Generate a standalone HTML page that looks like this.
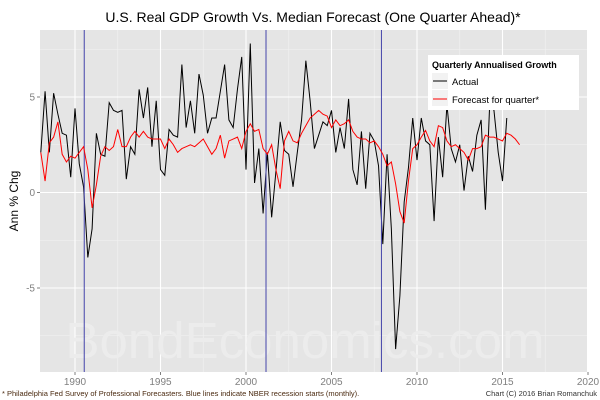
<!DOCTYPE html>
<html><head><meta charset="utf-8"><style>
body{margin:0;background:#fff;}
svg{display:block;font-family:"Liberation Sans",sans-serif;}
</style></head><body>
<svg id="chart" width="600" height="400" viewBox="0 0 600 400">
  <rect x="0" y="0" width="600" height="400" fill="#fff"/>
  <text x="313" y="22" font-size="14" text-anchor="middle" fill="#000">U.S. Real GDP Growth Vs. Median Forecast (One Quarter Ahead)*</text>
  <rect id="panel" x="40" y="30" width="547" height="342" fill="#e5e5e5"/>
  <g id="grid"></g>
  <text x="305" y="358" font-size="51" text-anchor="middle" fill="#ececec">BondEconomics.com</text>
  <g id="series"></g>
  <g id="axes"></g>
  <text transform="translate(18,201) rotate(-90)" font-size="12" text-anchor="middle" fill="#000">Ann % Chg</text>
  <g>
    <rect x="428" y="55" width="151" height="55" fill="#fff"/>
    <text x="432" y="68" font-size="9" font-weight="bold" fill="#000">Quarterly Annualised Growth</text>
    <rect x="432" y="73" width="16" height="16" fill="#f2f2f2"/>
    <line x1="433" y1="81" x2="447" y2="81" stroke="#000" stroke-width="1"/>
    <text x="452" y="85" font-size="9.5" fill="#000">Actual</text>
    <rect x="432" y="90" width="16" height="16" fill="#f2f2f2"/>
    <line x1="433" y1="99" x2="447" y2="99" stroke="#f00" stroke-width="1"/>
    <text x="452" y="103" font-size="9.5" fill="#000">Forecast for quarter*</text>
  </g>
  <text x="2" y="396" font-size="7.5" fill="#4a2a10">* Philadelphia Fed Survey of Professional Forecasters. Blue lines indicate NBER recession starts (monthly).</text>
  <text x="597" y="396" font-size="7.5" text-anchor="end" fill="#333">Chart (C) 2016 Brian Romanchuk</text>
</svg>
<script>
const startYear = 1988.0;
const actualValues = [
2.1,5.3,2.1,5.2, 4.1,3.1,3.0,0.8, 4.4,1.5,0.3,-3.4, -1.9,3.1,2.0,1.9,
4.7,4.3,4.2,4.3, 0.7,2.4,2.0,5.4, 3.9,5.5,2.4,4.8, 1.2,0.9,3.3,3.0,
2.9,6.7,3.4,4.8, 3.1,6.2,5.1,3.1, 3.9,3.9,5.3,6.7, 3.8,3.4,5.4,7.1,
1.2,7.8,0.5,2.3, -1.1,2.1,-1.3,1.1, 3.7,2.2,2.0,0.3, 2.1,3.8,6.9,4.8,
2.3,3.0,3.7,3.5, 4.3,2.1,3.4,2.3, 4.9,1.2,0.4,3.2, 0.2,3.1,2.7,1.4,
-2.7,2.0,-1.9,-8.2, -5.4,-0.5,1.3,3.9, 1.7,3.9,2.7,2.5, -1.5,2.9,0.8,4.6,
2.3,1.6,2.5,0.1, 1.9,1.1,3.0,3.8, -0.9,4.6,4.3,2.1, 0.6,3.9
];
const forecastValues = [
2.1,0.6,2.6,2.9, 3.7,2.0,1.6,1.9, 1.8,2.1,2.4,1.2, -0.8,0.4,1.9,2.4,
2.2,2.4,3.3,2.4, 2.4,2.9,3.2,2.9, 3.2,2.9,2.8,2.8, 2.8,2.3,2.8,2.5,
2.1,2.3,2.4,2.5, 2.4,2.6,2.8,2.4, 2.0,2.3,3.0,1.8, 2.7,2.8,2.9,2.3,
3.2,3.6,3.2,3.3, 2.3,2.0,2.5,1.2, 0.2,2.7,3.2,2.7, 2.6,3.1,3.5,3.9,
4.1,4.3,4.1,4.0, 3.4,3.8,3.5,3.6, 3.8,3.2,2.9,2.8, 2.8,2.6,2.7,2.4,
2.0,1.4,1.6,0.45, -1.0,-1.6,0.6,2.3, 2.5,2.9,3.25,2.7, 2.4,3.5,3.4,2.7,
2.4,2.5,2.3,2.1, 1.7,2.3,2.3,2.4, 3.0,2.9,2.9,2.8, 2.7,3.1,3.0,2.8, 2.5
];
const recessionStarts = [1990.54, 2001.17, 2007.92];
const xTicks = [1990,1995,2000,2005,2010,2015,2020];
const xTickLabels = ["1990","1995","2000","2005","2010","2015","2020"];
const yTicks = [5,0,-5];
const yTickLabels = ["5","0","-5"];

const NS="http://www.w3.org/2000/svg";
function xs(t){return 75 + (t-1990)*17.1;}
function ys(v){return 192.5 - v*19.1;}
function mk(tag,attrs,parent){const e=document.createElementNS(NS,tag);for(const k in attrs)e.setAttribute(k,attrs[k]);parent.appendChild(e);return e;}
const grid=document.getElementById('grid'), ser=document.getElementById('series'), axes=document.getElementById('axes');
for(const t of xTicks){const m=t-2.5;if(xs(m)>40){const l=mk('line',{x1:xs(m),x2:xs(m),y1:30,y2:372,stroke:'#f2f2f2','stroke-width':0.6},grid);

}}
for(const v of yTicks){for(const m of [v+2.5,v-2.5]){const l=mk('line',{x1:40,x2:587,y1:ys(m),y2:ys(m),stroke:'#f2f2f2','stroke-width':0.6},grid);

}}
xTicks.forEach((t,i)=>{const l=mk('line',{x1:xs(t),x2:xs(t),y1:30,y2:372,stroke:'#fff','stroke-width':1.1},grid);


mk('line',{x1:xs(t),x2:xs(t),y1:372,y2:375,stroke:'#7f7f7f'},axes);
const tx=mk('text',{x:xs(t),y:385,'font-size':10,'text-anchor':'middle',fill:'#7f7f7f'},axes);tx.textContent=xTickLabels[i];

});
yTicks.forEach((v,i)=>{const l=mk('line',{x1:40,x2:587,y1:ys(v),y2:ys(v),stroke:'#fff','stroke-width':1.1},grid);


mk('line',{x1:37,x2:40,y1:ys(v),y2:ys(v),stroke:'#7f7f7f'},axes);
const tx=mk('text',{x:35,y:ys(v)+3.5,'font-size':10,'text-anchor':'end',fill:'#7f7f7f'},axes);tx.textContent=yTickLabels[i];

});
const pa=mk('polyline',{points:actualValues.map((v,i)=>xs(startYear+i/4)+','+ys(v)).join(' '),fill:'none',stroke:'#000','stroke-width':1},ser);


for(const r of recessionStarts){const l=mk('line',{x1:xs(r),x2:xs(r),y1:30,y2:372,stroke:'#4444aa','stroke-width':1},ser);

}
const pf=mk('polyline',{points:forecastValues.map((v,i)=>xs(startYear+i/4)+','+ys(v)).join(' '),fill:'none',stroke:'#f00','stroke-width':1},ser);


</script>
</body></html>
